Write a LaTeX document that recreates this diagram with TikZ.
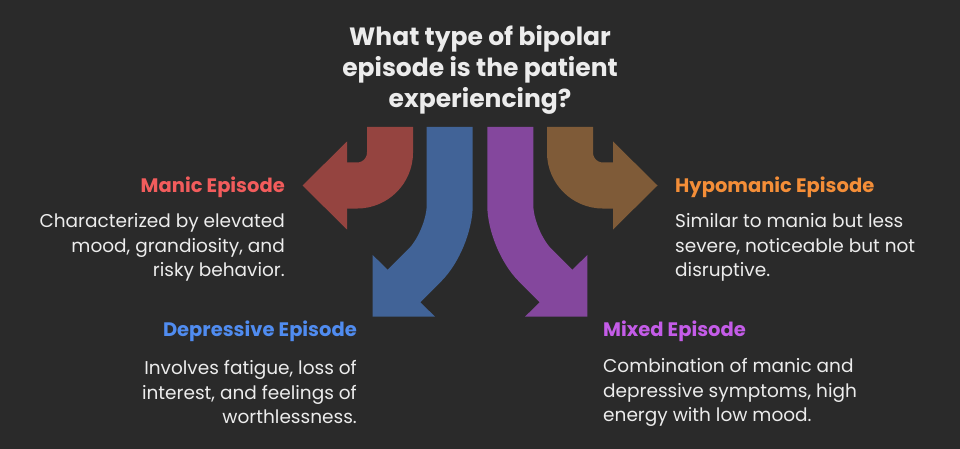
\documentclass[tikz,border=0pt]{standalone}
\usepackage{fontspec}
\setmainfont{Poppins}
\definecolor{bgc}{RGB}{42,42,42}
\definecolor{manicA}{RGB}{149,68,64}
\definecolor{depA}{RGB}{65,99,151}
\definecolor{mixA}{RGB}{132,71,157}
\definecolor{hypoA}{RGB}{127,91,56}
\definecolor{manicT}{RGB}{242,92,92}
\definecolor{depT}{RGB}{80,140,240}
\definecolor{mixT}{RGB}{196,92,232}
\definecolor{hypoT}{RGB}{244,142,56}
\definecolor{bodyT}{RGB}{236,236,236}
\tikzset{
  head/.style={font=\fontsize{19.5}{24}\selectfont\bfseries, inner sep=0pt},
  body/.style={text=bodyT, font=\fontsize{18.5}{24.5}\selectfont, inner sep=0pt},
  band/.style={line width=46pt}
}
\begin{document}
\begin{tikzpicture}[x=1pt,y=-1pt]
\fill[bgc] (0,0) rectangle (960,449);
\useasboundingbox (0,0) rectangle (960,449);
% arrows
\draw[band,manicA,rounded corners=33pt] (390,127) |- (346,185.5);
\fill[manicA] (347,141.5)--(302.5,185.5)--(347,229.5)--cycle;
\draw[band,hypoA,rounded corners=33pt] (570,127) |- (614,185.5);
\fill[hypoA] (613,141.5)--(657.5,185.5)--(613,229.5)--cycle;
\draw[band,depA,rounded corners=35pt] (449.7,127) -- (449.7,240.3) -- (401,289);
\fill[depA] (372.7,255)--(372.7,316.7)--(435,316.7)--cycle;
\draw[band,mixA,rounded corners=35pt] (510.3,127) -- (510.3,240.3) -- (559,289);
\fill[mixA] (587.3,255)--(587.3,316.7)--(525,316.7)--cycle;
% texts
\node[text=bodyT,align=center,inner sep=0pt,font=\fontsize{25}{31}\selectfont\bfseries] (q) at (480,69.5)
  {What type of bipolar\\episode is the patient\\experiencing?};
\node[head,text=manicT,anchor=east] (manic) at (285,187) {Manic Episode};
\node[body,anchor=east,align=right] (manicd) at (285,247.5)
  {Characterized by elevated\\mood, grandiosity, and\\risky behavior.};
\node[head,text=depT,anchor=east] (dep) at (357,331.5) {Depressive Episode};
\node[body,anchor=east,align=right] (depd) at (357,392.5)
  {Involves fatigue, loss of\\interest, and feelings of\\worthlessness.};
\node[head,text=hypoT,anchor=west] (hypo) at (675,187) {Hypomanic Episode};
\node[body,anchor=west,align=left] (hypod) at (675,247.5)
  {Similar to mania but less\\severe, noticeable but not\\disruptive.};
\node[head,text=mixT,anchor=west] (mix) at (603,331.5) {Mixed Episode};
\node[body,anchor=west,align=left] (mixd) at (603,392.5)
  {Combination of manic and\\depressive symptoms, high\\energy with low mood.};
\end{tikzpicture}
\end{document}
